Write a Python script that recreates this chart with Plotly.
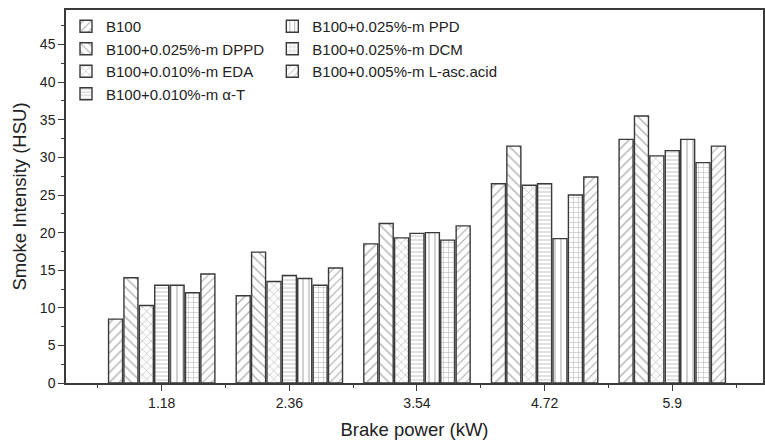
import plotly.graph_objects as go

categories = ["1.18", "2.36", "3.54", "4.72", "5.9"]
series_names = [
    "B100",
    "B100+0.025%-m DPPD",
    "B100+0.010%-m EDA",
    "B100+0.010%-m α-T",
    "B100+0.025%-m PPD",
    "B100+0.025%-m DCM",
    "B100+0.005%-m L-asc.acid",
]
b100 = [8.5, 11.6, 18.5, 26.5, 32.4]
dppd = [14.0, 17.4, 21.2, 31.5, 35.5]
eda = [10.3, 13.5, 19.3, 26.3, 30.2]
alpha_t = [13.0, 14.3, 19.9, 26.5, 30.9]
ppd = [13.0, 13.9, 20.0, 19.2, 32.4]
dcm = [12.0, 13.0, 19.0, 25.0, 29.3]
lasc = [14.5, 15.3, 20.9, 27.4, 31.5]
values = [b100, dppd, eda, alpha_t, ppd, dcm, lasc]

patterns = ["/", "\\", "x", "-", "|", "+", "/"]
sizes = [7, 7, 6, 4, 6, 5, 6]
legend_ids = ["legend", "legend", "legend", "legend", "legend2", "legend2", "legend2"]

xpos = list(range(len(categories)))
ink = "#3a3a3a"
fig = go.Figure()
for name, vals, pat, sz, lg in zip(series_names, values, patterns, sizes, legend_ids):
    fig.add_trace(go.Bar(
        x=xpos, y=vals, name=name, legend=lg,
        marker=dict(color="white", line=dict(color=ink, width=1.4),
                    pattern=dict(shape=pat, fgcolor="#555", bgcolor="white",
                                 size=sz, solidity=0.18)),
    ))

font = "Arial, Liberation Sans, sans-serif"
legend_style = dict(orientation="v", y=1.0, xanchor="left", yanchor="top",
                    font=dict(size=15, family=font, color="#222"),
                    bgcolor="rgba(0,0,0,0)", tracegroupgap=0, itemwidth=30)
fig.update_layout(
    width=765, height=446,
    margin=dict(l=66, r=0, t=10, b=63),
    plot_bgcolor="white", paper_bgcolor="white",
    barmode="group", bargap=0.156, bargroupgap=0.09,
    font=dict(family=font, color="#222", size=14),
    legend=dict(x=0.0, **legend_style),
    legend2=dict(x=0.296, **legend_style),
)
fig.update_xaxes(
    range=[-0.75, 4.711], tickmode="array", tickvals=xpos, ticktext=categories,
    showline=True, mirror=True, linecolor=ink, linewidth=1.5,
    ticks="outside", ticklen=6, tickcolor=ink, tickwidth=1.3,
    minor=dict(tickmode="linear", tick0=0.5, dtick=1, ticks="outside", ticklen=3, tickcolor=ink, tickwidth=1.2),
    showgrid=False, zeroline=False,
    title=dict(text="Brake power (kW)", font=dict(size=18.5, family=font, color="#222"), standoff=14),
    tickfont=dict(size=14, family=font, color="#222"),
)
fig.update_yaxes(
    range=[0, 49.6], dtick=5, tick0=0,
    showline=True, mirror=True, linecolor=ink, linewidth=1.5,
    ticks="outside", ticklen=6, tickcolor=ink, tickwidth=1.3,
    minor=dict(tick0=0, dtick=2.5, ticks="outside", ticklen=3, tickcolor=ink, tickwidth=1.2),
    showgrid=False, zeroline=False,
    title=dict(text="Smoke Intensity (HSU)", font=dict(size=18.5, family=font, color="#222"), standoff=8),
    tickfont=dict(size=14, family=font, color="#222"),
)
fig.write_html("out.html")
